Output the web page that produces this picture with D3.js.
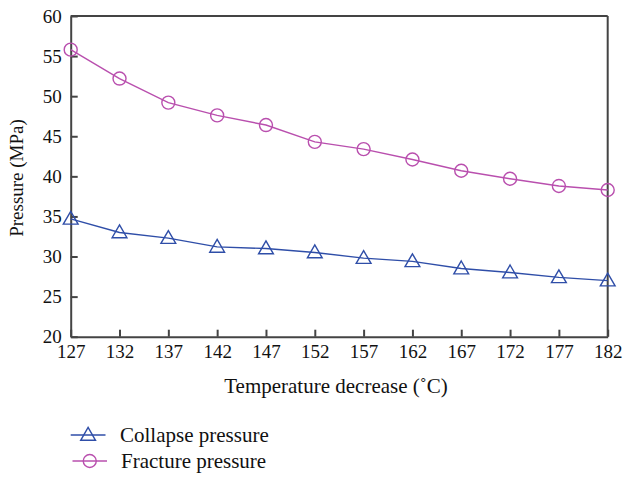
<!DOCTYPE html>
<html>
<head>
<meta charset="utf-8">
<script src="https://cdn.jsdelivr.net/npm/d3@7"></script>
<style>
  html, body { margin: 0; padding: 0; background: #fff; }
  svg text { font-family: "Liberation Serif", "Times New Roman", serif; fill: #111; }
</style>
</head>
<body>
<svg id="chart" width="626" height="477"></svg>
<script>
// Temperature decrease (°C) along the x axis
const temperatures = [127, 132, 137, 142, 147, 152, 157, 162, 167, 172, 177, 182];
// Pressure in MPa for each temperature decrease
const collapsePressure = [34.7, 33.0, 32.3, 31.2, 31.0, 30.5, 29.8, 29.4, 28.5, 28.0, 27.4, 27.0];
const fracturePressure = [55.8, 52.2, 49.2, 47.6, 46.4, 44.3, 43.4, 42.1, 40.7, 39.7, 38.8, 38.3];
const yTicks = [20, 25, 30, 35, 40, 45, 50, 55, 60];
const seriesNames = ["Collapse pressure", "Fracture pressure"];

const svg = d3.select("#chart");
const plotLeft = 70.7, plotRight = 607.7, plotTop = 16, plotBottom = 336.7;
const axisColor = "#444";
const blue = "#2f4ea8", magenta = "#b94fae";

const x = d3.scaleLinear().domain([127, 182]).range([plotLeft, plotRight]);
const y = d3.scaleLinear().domain([20, 60]).range([plotBottom, plotTop]);

// frame lines (top and right)
svg.append("line").attr("x1", plotLeft).attr("x2", plotRight).attr("y1", plotTop).attr("y2", plotTop)
  .attr("stroke", axisColor).attr("stroke-width", 2);
svg.append("line").attr("x1", plotRight).attr("x2", plotRight).attr("y1", plotTop).attr("y2", plotBottom)
  .attr("stroke", axisColor).attr("stroke-width", 2);

// axes with inward ticks
const xAxis = d3.axisBottom(x).tickValues(temperatures).tickSizeInner(-7).tickSizeOuter(0).tickPadding(16);
const yAxis = d3.axisLeft(y).tickValues(yTicks).tickSizeInner(-7).tickSizeOuter(0).tickPadding(16);

const gx = svg.append("g").attr("transform", `translate(0,${plotBottom})`).call(xAxis);
const gy = svg.append("g").attr("transform", `translate(${plotLeft},0)`).call(yAxis);

[gx, gy].forEach(g => {
  g.select(".domain").attr("stroke", axisColor).attr("stroke-width", 2);
  g.selectAll(".tick line").attr("stroke", axisColor).attr("stroke-width", 2);
  g.selectAll(".tick text").attr("font-family", "Liberation Serif, serif")
    .attr("font-size", 19).attr("fill", "#111");
});
gy.selectAll(".tick text").attr("x", -9).attr("dy", "0.33em");
gx.selectAll(".tick text").attr("y", 8);

// axis titles
svg.append("text").attr("x", 336).attr("y", 393)
  .attr("text-anchor", "middle").attr("font-size", 21)
  .text("Temperature decrease (˚C)");
svg.append("text").attr("transform", `translate(23,178) rotate(-90)`)
  .attr("text-anchor", "middle").attr("font-size", 19)
  .text("Pressure (MPa)");

const line = d3.line().x(d => x(d[0])).y(d => y(d[1]));
const collapseData = temperatures.map((t, i) => [t, collapsePressure[i]]);
const fractureData = temperatures.map((t, i) => [t, fracturePressure[i]]);

const tri = d3.symbol().type(d3.symbolTriangle).size(95);

function drawSeries(data, color, marker) {
  svg.append("path").datum(data).attr("d", line)
    .attr("fill", "none").attr("stroke", color).attr("stroke-width", 1.4);
  const g = svg.append("g");
  if (marker === "triangle") {
    g.selectAll("path").data(data).join("path")
      .attr("d", tri)
      .attr("transform", d => `translate(${x(d[0])},${y(d[1]) + 1})`)
      .attr("fill", "none").attr("stroke", color).attr("stroke-width", 1.4);
  } else {
    g.selectAll("circle").data(data).join("circle")
      .attr("cx", d => x(d[0])).attr("cy", d => y(d[1])).attr("r", 6.5)
      .attr("fill", "none").attr("stroke", color).attr("stroke-width", 1.4);
  }
}
drawSeries(collapseData, blue, "triangle");
drawSeries(fractureData, magenta, "circle");

// legend
const legend = [
  { name: seriesNames[0], color: blue, marker: "triangle", x1: 70.7, x2: 105.5, y: 435, tx: 120 },
  { name: seriesNames[1], color: magenta, marker: "circle", x1: 72.5, x2: 107, y: 461, tx: 121 }
];
legend.forEach(l => {
  svg.append("line").attr("x1", l.x1).attr("x2", l.x2).attr("y1", l.y).attr("y2", l.y)
    .attr("stroke", l.color).attr("stroke-width", 1.4);
  const cx = (l.x1 + l.x2) / 2;
  if (l.marker === "triangle") {
    svg.append("path").attr("d", tri).attr("transform", `translate(${cx},${l.y + 1})`)
      .attr("fill", "none").attr("stroke", l.color).attr("stroke-width", 1.4);
  } else {
    svg.append("circle").attr("cx", cx).attr("cy", l.y).attr("r", 6.5)
      .attr("fill", "none").attr("stroke", l.color).attr("stroke-width", 1.4);
  }
  svg.append("text").attr("x", l.tx).attr("y", l.y + 7).attr("font-size", 21).text(l.name);
});
</script>
</body>
</html>
